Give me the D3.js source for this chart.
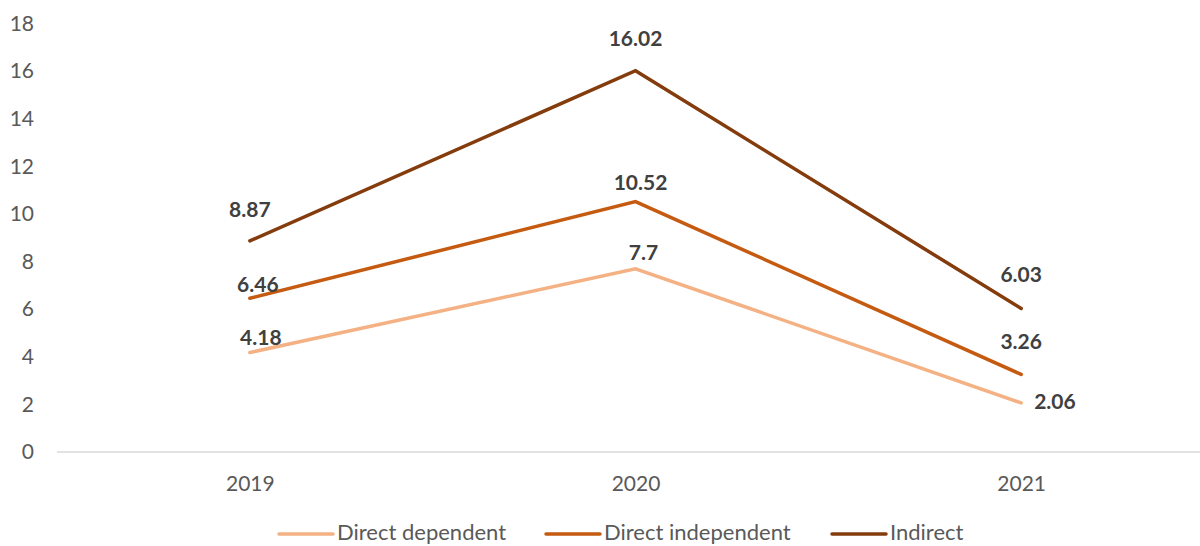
<!DOCTYPE html>
<html>
<head>
<meta charset="utf-8">
<script src="https://cdn.jsdelivr.net/npm/d3@7"></script>
<style>
  html, body { margin: 0; padding: 0; background: #fff; overflow: hidden; }
  svg { display: block; }
</style>
</head>
<body>
<svg id="chart" width="1200" height="546"></svg>
<script>
// Years on the category axis
const years = ["2019", "2020", "2021"];

// Series values per year
const directDependent = [4.18, 7.7, 2.06];
const directIndependent = [6.46, 10.52, 3.26];
const indirect = [8.87, 16.02, 6.03];

// Series names, in legend order
const seriesNames = ["Direct dependent", "Direct independent", "Indirect"];

// Y-axis tick values
const yTicks = [0, 2, 4, 6, 8, 10, 12, 14, 16, 18];

const series = [
  { name: seriesNames[0], values: directDependent, color: "#F4B183",
    // label offsets (dx, dy, anchor) for each point
    labels: [[11, -8, "middle"], [8, -9, "middle"], [13, 6, "start"]] },
  { name: seriesNames[1], values: directIndependent, color: "#C55A11",
    labels: [[8, -6, "middle"], [5, -12, "middle"], [0, -25, "middle"]] },
  { name: seriesNames[2], values: indirect, color: "#843C0C",
    labels: [[0, -24, "middle"], [0, -25, "middle"], [0, -26, "middle"]] }
];

const svg = d3.select("#chart");
const font = "Lato, 'Open Sans', sans-serif";

const x = d3.scalePoint().domain(years).range([57, 1214]).padding(0.5);
const y = d3.scaleLinear().domain([0, 18]).range([452, 23.6]);

// Y-axis labels (no axis line, no ticks)
const yAxis = svg.append("g").attr("transform", "translate(34,0)")
  .call(d3.axisLeft(y).tickValues(yTicks).tickSize(0).tickPadding(0));
yAxis.select(".domain").remove();
yAxis.selectAll("text")
  .attr("font-family", font).attr("font-size", 21).attr("fill", "#595959");

// Category axis line and labels
const xAxis = svg.append("g").attr("transform", `translate(0,${y(0)})`)
  .call(d3.axisBottom(x).tickSize(0));
xAxis.select(".domain").attr("stroke", "#d9d9d9").attr("stroke-width", 1.5)
  .attr("d", "M57,0H1214");
xAxis.selectAll("text")
  .attr("y", 39).attr("dy", 0)
  .attr("font-family", font).attr("font-size", 21).attr("fill", "#595959");

// Lines
const line = d3.line().x((d, i) => x(years[i])).y(d => y(d));
svg.append("g").selectAll("path").data(series).join("path")
  .attr("d", s => line(s.values))
  .attr("fill", "none")
  .attr("stroke", s => s.color)
  .attr("stroke-width", 3.5)
  .attr("stroke-linejoin", "miter")
  .attr("stroke-linecap", "round");

// Data labels
series.forEach(s => {
  svg.append("g").selectAll("text").data(s.values).join("text")
    .attr("x", (d, i) => x(years[i]) + s.labels[i][0])
    .attr("y", (d, i) => y(d) + s.labels[i][1])
    .attr("text-anchor", (d, i) => s.labels[i][2])
    .attr("font-family", font).attr("font-size", 21).attr("font-weight", "bold")
    .attr("fill", "#404040")
    .text(d => d);
});

// Legend
const legendX = [279, 546, 832];
const legend = svg.append("g");
series.forEach((s, i) => {
  legend.append("line")
    .attr("x1", legendX[i]).attr("x2", legendX[i] + 54)
    .attr("y1", 534).attr("y2", 534)
    .attr("stroke", s.color).attr("stroke-width", 3.5).attr("stroke-linecap", "round");
  legend.append("text")
    .attr("x", legendX[i] + 58).attr("y", 540)
    .attr("font-family", font).attr("font-size", 22).attr("fill", "#595959")
    .text(s.name);
});
</script>
</body>
</html>
